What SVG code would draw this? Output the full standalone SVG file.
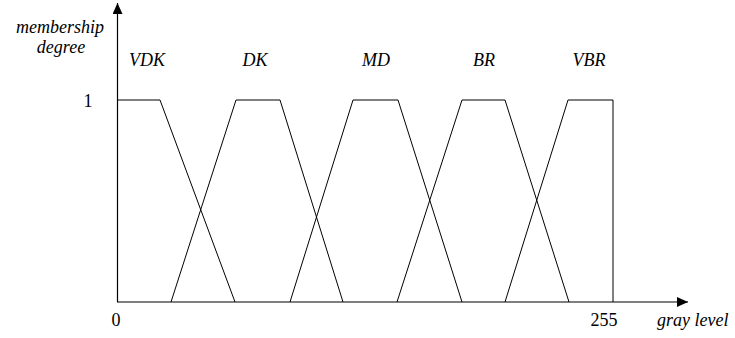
<svg xmlns="http://www.w3.org/2000/svg" width="735" height="338" viewBox="0 0 735 338">
<style>
text{font-family:'Liberation Serif','Times New Roman',serif;font-size:18px;fill:#000}
.i{font-style:italic}
.ax{stroke:#000;stroke-width:1.2;fill:none}
.mf{stroke:#000;stroke-width:1;fill:none;stroke-linejoin:miter}
</style>
<defs>
<marker id="ah" markerWidth="12" markerHeight="10" refX="11" refY="5" orient="auto" markerUnits="userSpaceOnUse">
<path d="M0,0 L11,5 L0,10 Z" fill="#000"/>
</marker>
</defs>
<g id="axes">
<line class="ax" x1="117.5" y1="302" x2="117.5" y2="3" marker-end="url(#ah)"/>
<line class="ax" x1="117" y1="302" x2="688" y2="302" marker-end="url(#ah)"/>
</g>
<g id="connectors">
<polyline id="VDK-curve" class="mf" points="117.5,100 160,100 235,302"/>
<polyline id="DK-curve" class="mf" points="171,302 236,100 280,100 343,302"/>
<polyline id="MD-curve" class="mf" points="290,302 353,100 398,100 462,302"/>
<polyline id="BR-curve" class="mf" points="397,302 462,100 505,100 569,302"/>
<polyline id="VBR-curve" class="mf" points="505,302 568,100 613,100 613,302"/>
</g>
<g id="y-label">
<text class="i" x="60" y="33" text-anchor="middle">membership</text>
<text class="i" x="61" y="53" text-anchor="middle">degree</text>
</g>
<g id="tick-1"><text x="88" y="107" text-anchor="middle">1</text></g>
<g id="tick-0"><text x="116" y="326" text-anchor="middle">0</text></g>
<g id="tick-255"><text x="604" y="326" text-anchor="middle">255</text></g>
<g id="x-label"><text class="i" x="657" y="326">gray level</text></g>
<g id="VDK"><text class="i" x="147" y="66" text-anchor="middle">VDK</text></g>
<g id="DK"><text class="i" x="255" y="66" text-anchor="middle">DK</text></g>
<g id="MD"><text class="i" x="376" y="66" text-anchor="middle">MD</text></g>
<g id="BR"><text class="i" x="484" y="66" text-anchor="middle">BR</text></g>
<g id="VBR"><text class="i" x="589" y="66" text-anchor="middle">VBR</text></g>
</svg>
